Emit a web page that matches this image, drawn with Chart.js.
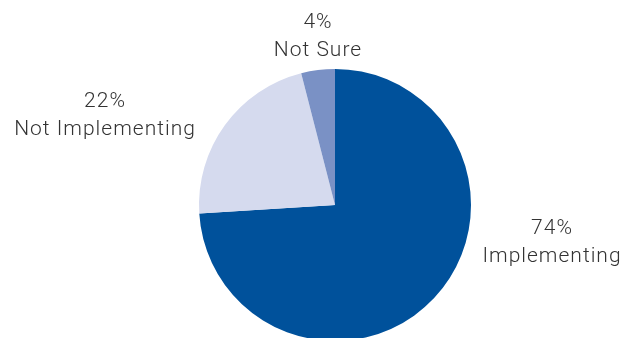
<!DOCTYPE html>
<html>
<head>
<meta charset="utf-8">
<script src="https://cdn.jsdelivr.net/npm/chart.js@4/dist/chart.umd.min.js"></script>
<style>
  html, body { margin: 0; padding: 0; background: #fff; overflow: hidden; }
  #wrap { width: 627px; height: 345px; position: relative; }
</style>
</head>
<body>
<div id="wrap"><canvas id="c" width="627" height="345"></canvas></div>
<script>
const categories = ["Implementing", "Not Implementing", "Not Sure"];
const values = [74, 22, 4];
const colors = ["#00519b", "#d5daee", "#7a91c5"];
// label anchor offsets from pie centre: [dx, first-line baseline dy] (layout only)
const labelOffsets = [[217, 29], [-230, -98], [-17, -177]];

const labelPlugin = {
  id: 'sliceLabels',
  afterDraw(chart) {
    const ctx = chart.ctx;
    const meta = chart.getDatasetMeta(0);
    ctx.save();
    ctx.fillStyle = '#333333';
    ctx.font = '300 21px Roboto, "Liberation Sans", sans-serif';
    ctx.letterSpacing = '1px';
    ctx.textAlign = 'center';
    ctx.textBaseline = 'alphabetic';
    meta.data.forEach((arc, i) => {
      const cx = arc.x + labelOffsets[i][0];
      const cy = arc.y + labelOffsets[i][1];
      ctx.fillText(values[i] + '%', cx, cy);
      ctx.fillText(categories[i], cx, cy + 28);
    });
    ctx.restore();
  }
};

new Chart(document.getElementById('c'), {
  type: 'pie',
  data: {
    labels: categories,
    datasets: [{ data: values, backgroundColor: colors, borderWidth: 0 }]
  },
  options: {
    responsive: false,
    animation: false,
    layout: { padding: { top: 69, bottom: 4, left: 199, right: 156 } },
    plugins: { legend: { display: false }, tooltip: { enabled: false } }
  },
  plugins: [labelPlugin]
});
</script>
</body>
</html>
